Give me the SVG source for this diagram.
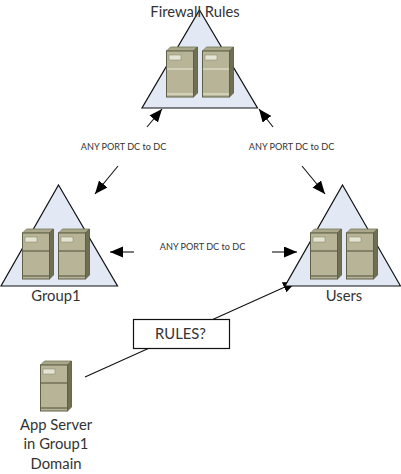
<svg xmlns="http://www.w3.org/2000/svg" width="401" height="474" viewBox="0 0 401 474">
<style>
.tri{fill:#e2e9f5;stroke:#111;stroke-width:1.2}
.conn{fill:none;stroke:#111;stroke-width:1.1}
.lbl{font-family:Lato,"Open Sans","Liberation Sans",sans-serif;fill:#333;text-anchor:middle}
.big{font-size:14.800px}
.small{font-size:9.100px}
.front{fill:#b7b497;stroke:#5f5f45;stroke-width:1}
.topf{fill:#a9a88b;stroke:#77775c;stroke-width:.8}
.side{fill:#6f7053;stroke:#55553e;stroke-width:.8}
.div{stroke:currentColor;stroke-width:1;fill:none}
.plate{fill:#e4e4d4;stroke:#8f8f74;stroke-width:.6}
.lite{color:#ecebdc}
.dark{color:#4f4f38}
</style>
<defs>
<marker id="ah" markerUnits="userSpaceOnUse" markerWidth="15" markerHeight="12" refX="13" refY="5.500" orient="auto"><path d="M0 0L13 5.500L0 11Z" fill="#000"/></marker>
<g id="srv">
<path class="topf" d="M0 4L4 0H31L27 4Z"/>
<path class="side" d="M27 4L31 0V46L27 50Z"/>
<rect class="front" x="0" y="4" width="27" height="46"/>
<path class="div" d="M.5 22H26.500"/>
<path class="div" d="M.5 47H26.500"/>
<rect class="plate" x="2.500" y="8" width="12" height="5"/>
</g>
</defs>
<g id="connectors">
<path class="conn" d="M147 127L162 109" marker-end="url(#ah)"/>
<path class="conn" d="M273 127L259 109" marker-end="url(#ah)"/>
<path class="conn" d="M118 166L95 194" marker-end="url(#ah)"/>
<path class="conn" d="M302 166L325 194" marker-end="url(#ah)"/>
<path class="conn" d="M134 252H110" marker-end="url(#ah)"/>
<path class="conn" d="M272 252H297" marker-end="url(#ah)"/>
<path class="conn" d="M85 377L296 282" marker-end="url(#ah)"/>
</g>
<g id="firewall">
<path class="tri" d="M199.500 10L257.500 108H142Z"/>
<use href="#srv" class="lite" x="166.500" y="47"/>
<use href="#srv" class="lite" x="202.500" y="47"/>
<text class="lbl big" x="195" y="17">Firewall Rules</text>
</g>
<g id="group1">
<path class="tri" d="M58.500 185L117.500 286H1Z"/>
<use href="#srv" class="dark" x="22.500" y="229"/>
<use href="#srv" class="dark" x="58.500" y="229"/>
<text class="lbl big" x="56" y="301">Group1</text>
</g>
<g id="users">
<path class="tri" d="M342.500 185L400.500 286H285Z"/>
<use href="#srv" class="dark" x="310.500" y="229"/>
<use href="#srv" class="dark" x="346.500" y="229"/>
<text class="lbl big" x="344" y="301">Users</text>
</g>
<g id="rules">
<rect x="133.500" y="319.500" width="96" height="29" fill="#fff" stroke="#111" stroke-width="1.2"/>
<text class="lbl big" x="180.500" y="339">RULES?</text>
</g>
<g id="appserver">
<use href="#srv" class="dark" x="40.500" y="361"/>
<text class="lbl big" x="56" y="430">App Server</text>
<text class="lbl big" x="56" y="449">in Group1</text>
<text class="lbl big" x="56" y="469">Domain</text>
</g>
<g id="edge-labels">
<text class="lbl small" x="123.500" y="150">ANY PORT DC to DC</text>
<text class="lbl small" x="291.500" y="150">ANY PORT DC to DC</text>
<text class="lbl small" x="202.500" y="250">ANY PORT DC to DC</text>
</g>
</svg>
